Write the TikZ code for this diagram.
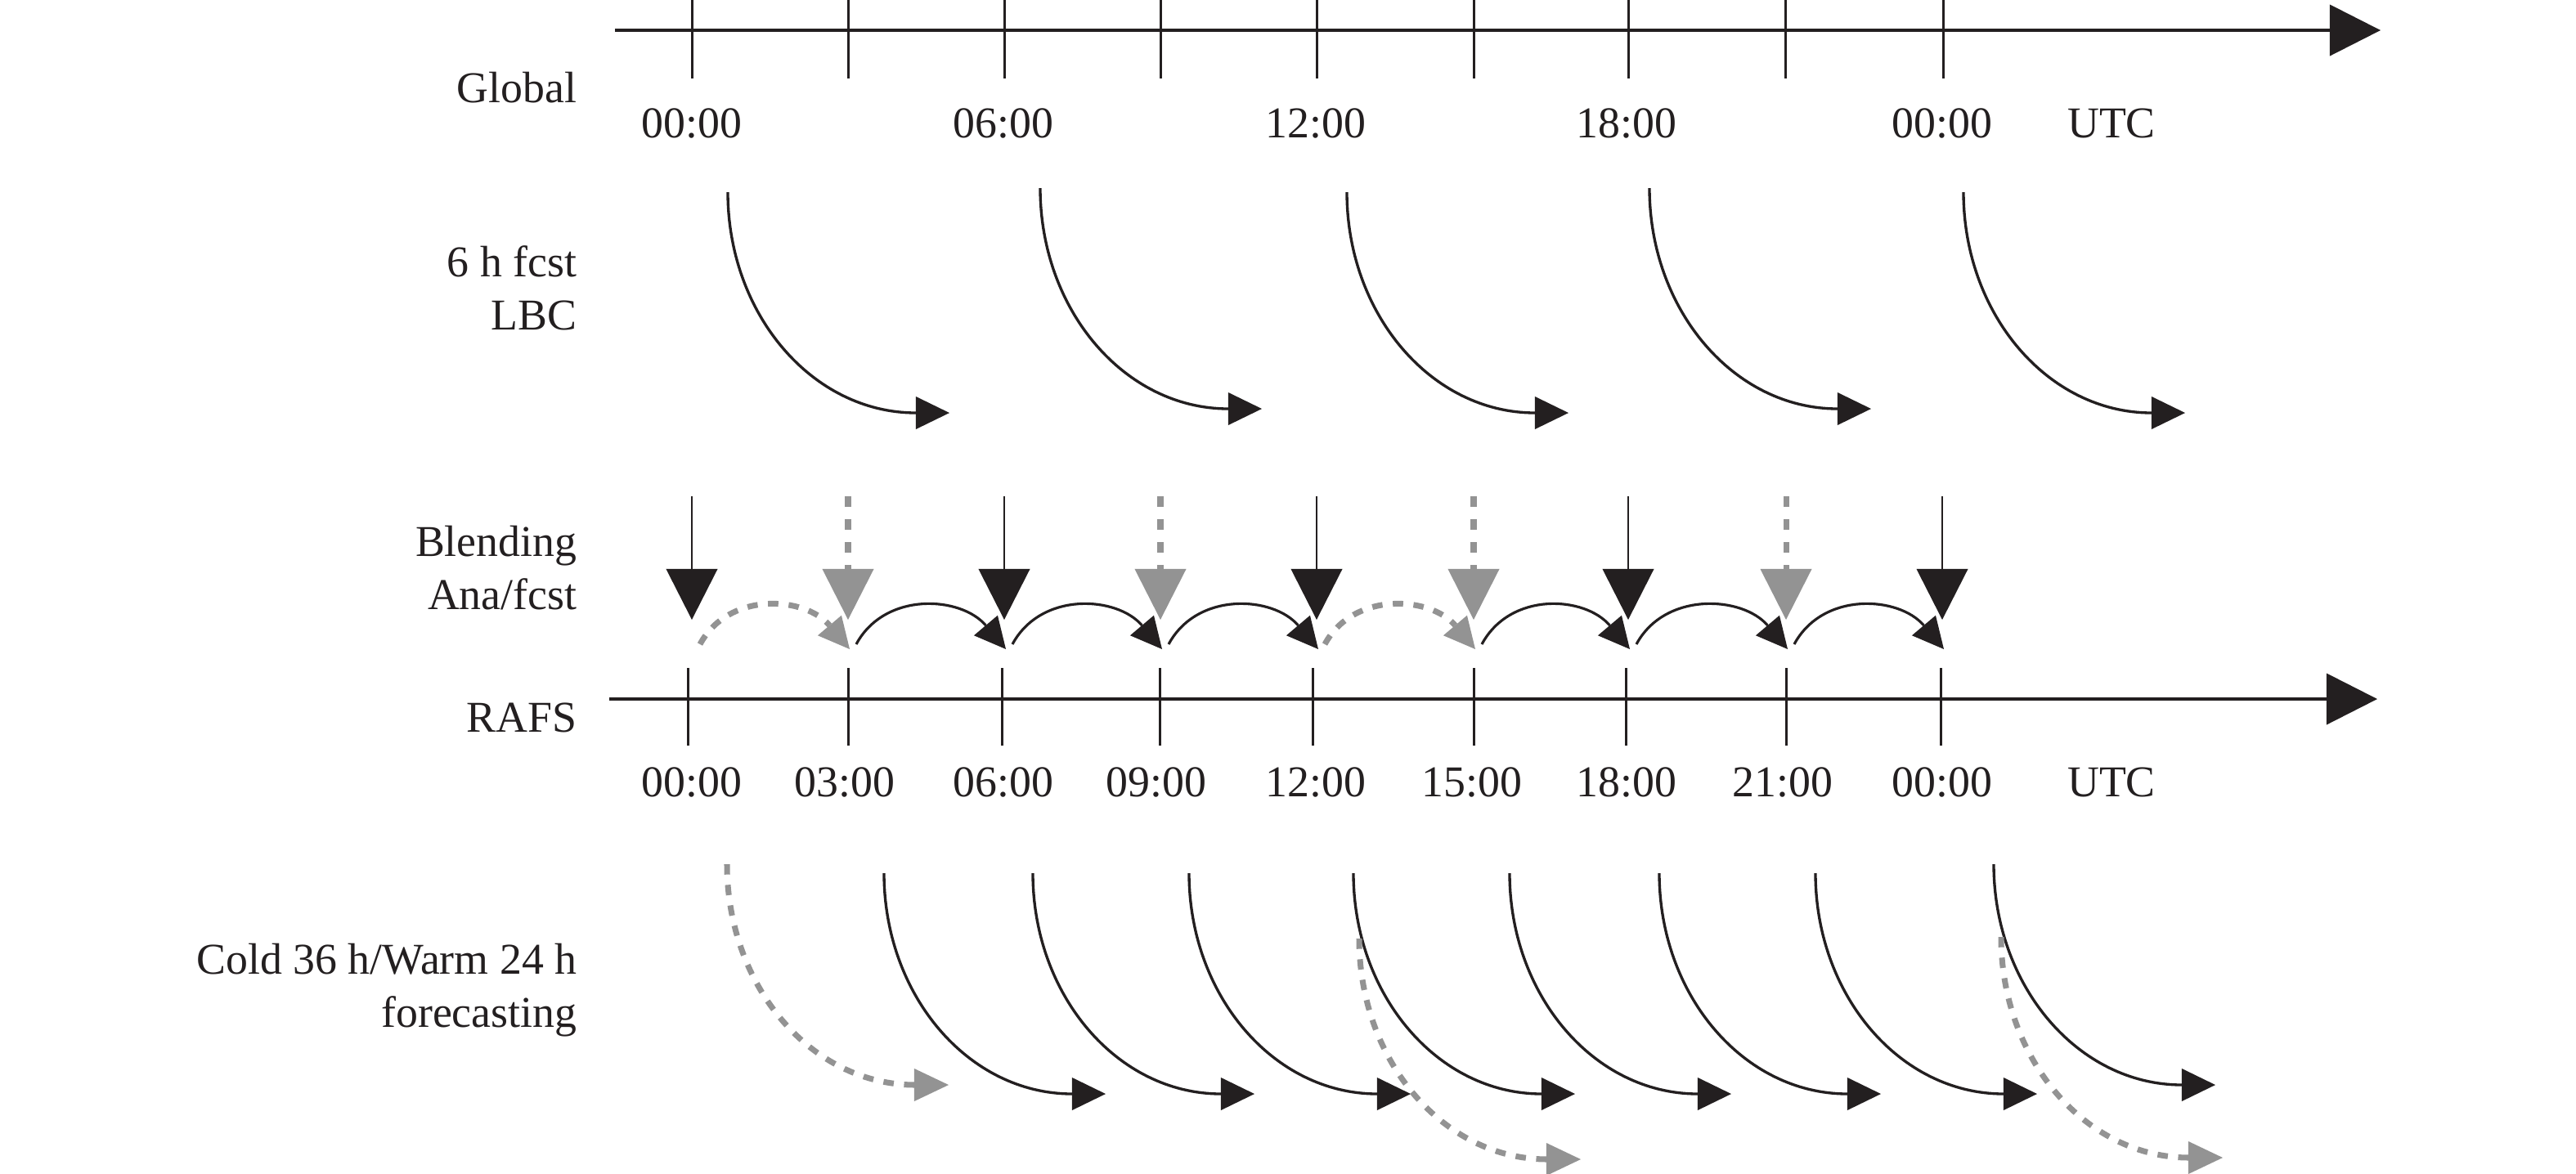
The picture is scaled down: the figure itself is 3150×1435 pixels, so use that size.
\documentclass[tikz,border=0pt]{standalone}
\usepackage{fontspec}
\setmainfont{Liberation Serif}
\usetikzlibrary{arrows.meta}
\definecolor{ink}{HTML}{231F20}
\definecolor{grayarr}{HTML}{939393}
\begin{document}
\begin{tikzpicture}[x=0.01cm,y=0.01cm,line cap=butt,
  lbl/.style={font=\fontsize{15.3}{18.6}\selectfont, text=ink, inner sep=0pt},
  axisline/.style={draw=ink, line width=0.9pt, -{Triangle[length=0.62cm,width=0.63cm,line width=0pt]}},
  tickline/.style={draw=ink, line width=0.85pt},
  bigblack/.style={draw=ink, line width=0.8pt, -{Triangle[length=0.62cm,width=0.63cm,line width=0pt]}},
  biggray/.style={draw=grayarr, line width=2pt, dash pattern=on 3.6pt off 4.4pt, -{Triangle[length=0.62cm,width=0.63cm,line width=0pt]}},
  curveblack/.style={draw=ink, line width=0.95pt, -{Triangle[length=0.41cm,width=0.40cm,line width=0pt]}},
  curvegray/.style={draw=grayarr, line width=2pt, dash pattern=on 3.6pt off 3.6pt, -{Triangle[length=0.42cm,width=0.40cm,line width=0pt]}},
  arcblack/.style={draw=ink, line width=0.9pt, -{Triangle[length=0.38cm,width=0.38cm,line width=0pt]}},
  arcgray/.style={draw=grayarr, line width=2pt, dash pattern=on 3.6pt off 3.6pt, -{Triangle[length=0.38cm,width=0.38cm,line width=0pt]}},
]
\useasboundingbox (0,0) rectangle (3150,-1435);

% ---------- row labels ----------
\node[lbl, anchor=base east] (global) at (706,-125) {Global};
\node[lbl, anchor=base east] (lbc) at (706,-338) {\begin{tabular}[t]{@{}r@{}}6 h fcst\\LBC\end{tabular}};
\node[lbl, anchor=base east] (blend) at (706,-680) {\begin{tabular}[t]{@{}r@{}}Blending\\Ana/fcst\end{tabular}};
\node[lbl, anchor=base east] (rafs) at (706,-895) {RAFS};
\node[lbl, anchor=base east] (fcst) at (706,-1191) {\begin{tabular}[t]{@{}r@{}}Cold 36 h/Warm 24 h\\forecasting\end{tabular}};

% ---------- global time axis ----------
\coordinate (gstart) at (752,-37);
\coordinate (gend) at (2911,-37);
\draw[axisline] (gstart) -- (gend);
\foreach \x [count=\i] in {846,1037,1228,1419,1610,1802,1991,2183,2376}
  \draw[tickline] (\x,0) -- (\x,-96);
\foreach \x/\t [count=\i] in {846/00:00,1227/06:00,1609/12:00,1989/18:00,2375/00:00,2582/UTC}
  \node[lbl, anchor=base] (gt\i) at (\x,-168) {\t};

% ---------- 6 h fcst LBC curves ----------
\foreach \x/\y in {890/235,1272/230,1647/235,2017/230,2401/235}
  \draw[curveblack] (\x,-\y) .. controls (\x,-\y-149) and (\x+103,-\y-270) .. (\x+230,-\y-270) -- (\x+271,-\y-270);

% ---------- blending vertical arrows ----------
\foreach \x in {846,1228,1610,1991,2375}
  \draw[bigblack] (\x,-607) -- (\x,-758);
\foreach \x in {1037,1419,1802,2184}
  \draw[biggray] (\x,-607) -- (\x,-758);

% ---------- small cycling arcs ----------
\foreach \a/\b in {1047/1230,1238/1421,1429/1612,1812/1993,2001/2186,2194/2377}
  \draw[arcblack] (\a,-788) .. controls (\a+35,-723) and (\b-55,-729) .. (\b,-794);
\foreach \a/\b in {856/1039,1620/1804}
  \draw[arcgray] (\a,-788) .. controls (\a+35,-723) and (\b-55,-729) .. (\b,-794);

% ---------- RAFS time axis ----------
\coordinate (rstart) at (745,-855);
\coordinate (rend) at (2907,-855);
\draw[axisline] (rstart) -- (rend);
\foreach \x in {841,1037,1225,1418,1605,1802,1988,2184,2373}
  \draw[tickline] (\x,-817) -- (\x,-912);
\foreach \x/\t [count=\i] in {846/00:00,1033/03:00,1227/06:00,1414/09:00,1609/12:00,1800/15:00,1989/18:00,2180/21:00,2375/00:00,2582/UTC}
  \node[lbl, anchor=base] (rt\i) at (\x,-974) {\t};

% ---------- forecasting curves ----------
\foreach \x/\y in {1081/1068,1263/1068,1454/1068,1655/1068,1846/1068,2029/1068,2220/1068,2438/1057}
  \draw[curveblack] (\x,-\y) .. controls (\x,-\y-149) and (\x+103,-\y-270) .. (\x+230,-\y-270) -- (\x+271,-\y-270);
\foreach \x/\y in {889/1057,1662/1148,2447/1146}
  \draw[curvegray] (\x,-\y) .. controls (\x,-\y-149) and (\x+103,-\y-270) .. (\x+230,-\y-270) -- (\x+271,-\y-270);
\end{tikzpicture}
\end{document}
